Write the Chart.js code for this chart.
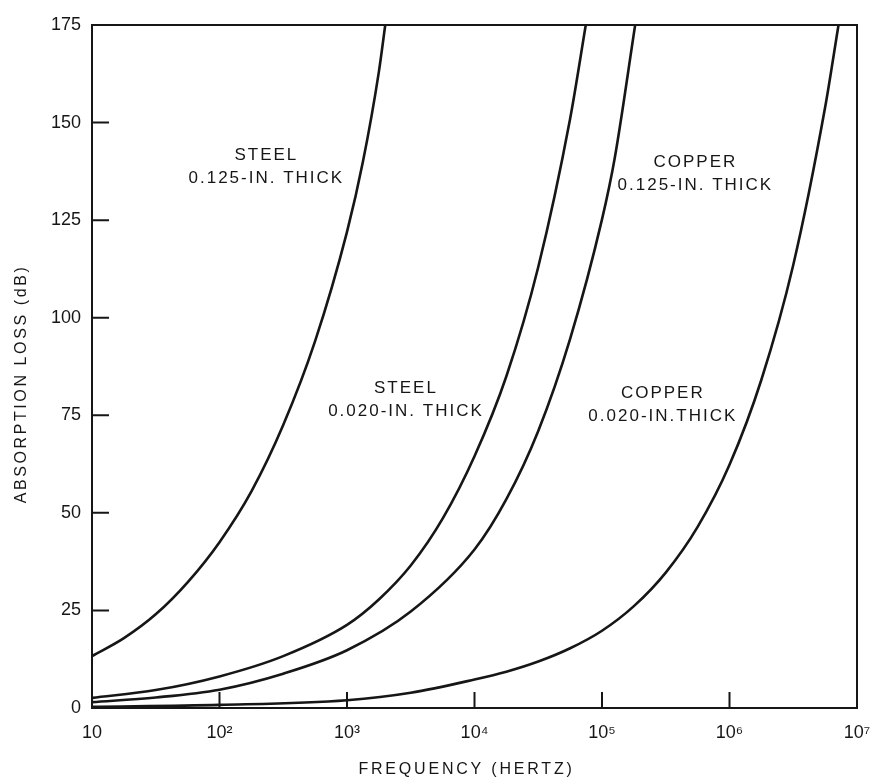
<!DOCTYPE html>
<html>
<head>
<meta charset="utf-8">
<title>Absorption loss vs frequency</title>
<script src="https://cdn.jsdelivr.net/npm/chart.js@4.4.0/dist/chart.umd.min.js"></script>
<style>
	html, body { margin: 0; padding: 0; background: #fff; }
	#wrap { width: 871px; height: 784px; position: relative; }
</style>
</head>
<body>
<div id="wrap"><canvas id="chart"></canvas></div>
<script>
// Values: frequency (Hz) and absorption loss (dB)
var steel125Freq = [10, 17.8, 31.6, 56.2, 100, 178, 316, 562, 1000, 1334, 1778, 1995];
var steel125Loss = [13.3, 17.9, 24, 32.2, 42.5, 55.5, 72.5, 94, 122, 140, 163, 175];

var steel020Freq = [10, 31.6, 100, 316, 1000, 1778, 3162, 5623, 10000, 17783, 31623, 56234, 74600];
var steel020Loss = [2.6, 4.6, 8.1, 13.3, 21.3, 27.8, 36.5, 48.5, 64.5, 85, 113, 151, 175];

var copper125Freq = [10, 31.6, 100, 316, 1000, 3162, 10000, 17783, 31623, 56234, 100000, 126000, 182000];
var copper125Loss = [1.5, 2.7, 4.7, 8.8, 14.8, 24.7, 40.6, 53.5, 71, 94.6, 125.2, 141, 175];

var copper020Freq = [10, 100, 1000, 3162, 10000, 17783, 31623, 56234, 100000, 177830, 316230, 562340, 1000000, 1778300, 3162300, 5623400, 7161000];
var copper020Loss = [0.3, 0.8, 2.0, 3.9, 7.3, 9.3, 11.9, 15.3, 19.8, 26.1, 34.7, 46.4, 62.3, 84.1, 113.5, 153.9, 175];

var xTicks = [10, 1e2, 1e3, 1e4, 1e5, 1e6, 1e7];
var xTickLabels = ['10', '10\u00B2', '10\u00B3', '10\u2074', '10\u2075', '10\u2076', '10\u2077'];
var yTicks = [0, 25, 50, 75, 100, 125, 150, 175];

// curve captions, anchored in data units (centre of the two-line block)
var captions = [
	{ lines: ['STEEL', '0.125-IN. THICK'], f: 233, db: 138.6 },
	{ lines: ['STEEL', '0.020-IN. THICK'], f: 2900, db: 78.9 },
	{ lines: ['COPPER', '0.125-IN. THICK'], f: 540000, db: 136.8 },
	{ lines: ['COPPER', '0.020-IN.THICK'], f: 300000, db: 77.6 }
];

var FONT = "'Liberation Sans', Arial, Helvetica, sans-serif";
var INK = '#161616';

function pairs(xs, ys)
{
	return xs.map(function (x, i) { return { x: x, y: ys[i] }; });
}

function curve(xs, ys)
{
	return {
		data: pairs(xs, ys),
		borderColor: INK,
		borderWidth: 2.6,
		pointRadius: 0,
		fill: false,
		cubicInterpolationMode: 'monotone'
	};
}

var framePlugin = {
	id: 'frame',
	afterDatasetsDraw: function (chart)
	{
		var ctx = chart.ctx, a = chart.chartArea;
		var xs = chart.scales.x, ys = chart.scales.y;

		ctx.save();
		ctx.strokeStyle = INK;
		ctx.lineWidth = 2;
		ctx.strokeRect(a.left, a.top, a.right - a.left, a.bottom - a.top);

		// short tick marks pointing into the plot
		ctx.beginPath();
		ys.ticks.forEach(function (t)
		{
			if (t.value <= ys.min || t.value >= ys.max) return;
			var y = ys.getPixelForValue(t.value);
			ctx.moveTo(a.left, y);
			ctx.lineTo(a.left + 17, y);
		});
		xs.ticks.forEach(function (t)
		{
			if (t.value <= xs.min || t.value >= xs.max) return;
			var x = xs.getPixelForValue(t.value);
			ctx.moveTo(x, a.bottom);
			ctx.lineTo(x, a.bottom - 16);
		});
		ctx.stroke();

		// curve captions
		ctx.fillStyle = INK;
		ctx.font = '17px ' + FONT;
		ctx.letterSpacing = '2px';
		ctx.textAlign = 'center';
		ctx.textBaseline = 'middle';
		captions.forEach(function (c)
		{
			var cx = xs.getPixelForValue(c.f);
			var cy = ys.getPixelForValue(c.db);
			ctx.fillText(c.lines[0], cx, cy - 11.5);
			ctx.fillText(c.lines[1], cx, cy + 11.5);
		});

		// axis titles
		ctx.font = '16px ' + FONT;
		ctx.letterSpacing = '2.8px';
		ctx.fillText('FREQUENCY (HERTZ)', (a.left + a.right) / 2 - 8, 770);
		ctx.translate(22, 384);
		ctx.rotate(-Math.PI / 2);
		ctx.letterSpacing = '2.6px';
		ctx.fillText('ABSORPTION LOSS (dB)', 0, 0);
		ctx.restore();
	}
};

var canvas = document.getElementById('chart');
canvas.width = 871;
canvas.height = 784;

var chart = new Chart(canvas.getContext('2d'), {
	type: 'line',
	data: {
		datasets: [
			curve(steel125Freq, steel125Loss),
			curve(steel020Freq, steel020Loss),
			curve(copper125Freq, copper125Loss),
			curve(copper020Freq, copper020Loss)
		]
	},
	options: {
		responsive: false,
		animation: false,
		devicePixelRatio: 1,
		layout: { padding: { top: 25, right: 14, left: 0, bottom: 0 } },
		plugins: { legend: { display: false }, tooltip: { enabled: false } },
		scales: {
			x: {
				type: 'logarithmic',
				min: 10,
				max: 1e7,
				grid: { display: false, drawTicks: false },
				border: { display: false },
				afterBuildTicks: function (scale)
				{
					scale.ticks = xTicks.map(function (v) { return { value: v }; });
				},
				afterFit: function (scale)
				{
					scale.height = 76;
					scale.paddingLeft = 0;
					scale.paddingRight = 0;
				},
				ticks: {
					autoSkip: false,
					maxRotation: 0,
					padding: 14,
					color: INK,
					font: { family: FONT, size: 18 },
					callback: function (value, index) { return xTickLabels[index]; }
				}
			},
			y: {
				type: 'linear',
				min: 0,
				max: 175,
				grid: { display: false, drawTicks: false },
				border: { display: false },
				afterBuildTicks: function (scale)
				{
					scale.ticks = yTicks.map(function (v) { return { value: v }; });
				},
				afterFit: function (scale)
				{
					scale.width = 92;
					scale.paddingTop = 0;
					scale.paddingBottom = 0;
				},
				ticks: {
					padding: 11,
					color: INK,
					font: { family: FONT, size: 18 }
				}
			}
		}
	},
	plugins: [framePlugin]
});
</script>
</body>
</html>
